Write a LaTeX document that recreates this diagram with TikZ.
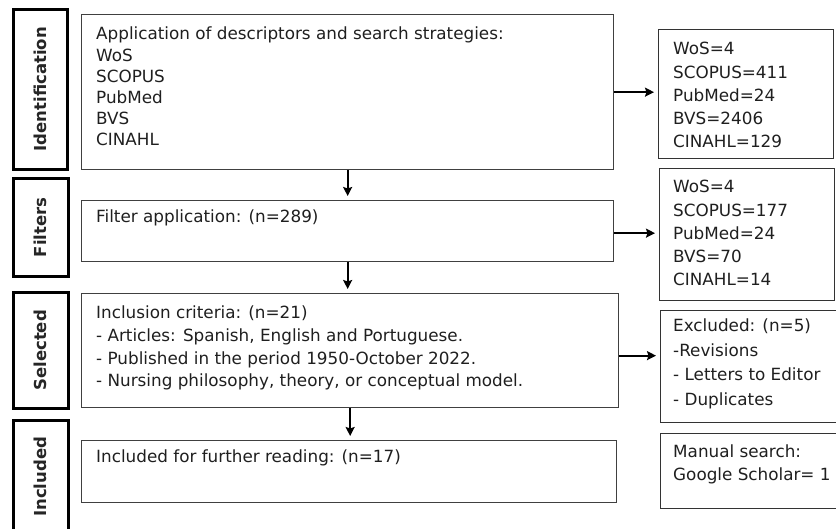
\documentclass[tikz,border=0pt]{standalone}
\usepackage{fontspec}
\setmainfont{DejaVu Sans}
\usetikzlibrary{arrows.meta}
\newcommand\mlines[2]{\parbox[t]{20cm}{\fontsize{16.8pt}{#1}\selectfont\raggedright #2}}
\begin{document}
\begin{tikzpicture}[x=1pt,y=-1pt,
  lab/.style={draw=black, line width=2.6pt, anchor=north west, inner sep=0pt},
  mainbox/.style={draw=black!75, line width=1.3pt, anchor=north west, inner sep=0pt},
  sidebox/.style={draw=black!80, line width=1.3pt, anchor=north west, inner sep=0pt},
  txt/.style={anchor=base west, inner sep=0pt, text=black!88},
  labtxt/.style={rotate=90, inner sep=0pt, font=\fontsize{16.5pt}{18pt}\selectfont\bfseries, text=black!85},
  arr/.style={line width=2pt, shorten >=4pt, -{Stealth[length=9pt,width=9pt,inset=1.5pt]}}]
\useasboundingbox (0,0) rectangle (836,529);
% stage labels
\node[lab, minimum width=54pt, minimum height=160pt] (l1) at (12,8) {};
\node[lab, minimum width=55pt, minimum height=98pt] (l2) at (12,177) {};
\node[lab, minimum width=55pt, minimum height=116pt] (l3) at (12,291) {};
\node[lab, minimum width=55pt, minimum height=113pt] (l4) at (12,419) {};
\node[labtxt] (lt1) at (l1.center) {Identification};
\node[labtxt] (lt2) at (l2.center) {Filters};
\node[labtxt] (lt3) at (l3.center) {Selected};
\node[labtxt] (lt4) at (l4.center) {Included};
% main boxes
\node[mainbox, minimum width=532pt, minimum height=155pt] (b1) at (81,14) {};
\node[mainbox, minimum width=532pt, minimum height=61pt] (b2) at (81,200) {};
\node[mainbox, minimum width=537pt, minimum height=114pt] (b3) at (81,293) {};
\node[mainbox, minimum width=535pt, minimum height=62pt] (b4) at (81,440) {};
\node[txt] (t1) at (96,40) {\mlines{21.2pt}{Application of descriptors and search strategies:\\WoS\\SCOPUS\\PubMed\\BVS\\CINAHL}};
\node[txt] (t2) at (96,223) {\mlines{21.2pt}{Filter application: (n=289)}};
\node[txt] (t3) at (96,319) {\mlines{22.6pt}{Inclusion criteria: (n=21)\\- Articles: Spanish, English and Portuguese.\\- Published in the period 1950-October 2022.\\- Nursing philosophy, theory, or conceptual model.}};
\node[txt] (t4) at (96,463) {\mlines{21.2pt}{Included for further reading: (n=17)}};
% side boxes
\node[sidebox, minimum width=175pt, minimum height=129pt] (r1) at (658,29) {};
\node[sidebox, minimum width=175pt, minimum height=132pt] (r2) at (659,168) {};
\node[sidebox, minimum width=180pt, minimum height=112pt] (r3) at (660,310) {};
\node[sidebox, minimum width=180pt, minimum height=75pt] (r4) at (660,433) {};
\node[txt] (rt1) at (673,55) {\mlines{23.2pt}{WoS=4\\SCOPUS=411\\PubMed=24\\BVS=2406\\CINAHL=129}};
\node[txt] (rt2) at (673,193) {\mlines{23.2pt}{WoS=4\\SCOPUS=177\\PubMed=24\\BVS=70\\CINAHL=14}};
\node[txt] (rt3) at (673,332) {\mlines{24.5pt}{Excluded: (n=5)\\-Revisions\\- Letters to Editor\\- Duplicates}};
\node[txt] (rt4) at (673,457) {\mlines{23pt}{Manual search:\\Google Scholar= 1}};
% arrows
\draw[arr] (b1.south) -- (b2.north);
\draw[arr] (b2.south) -- (b2.south |- b3.north);
\draw[arr] (b3.south) -- (b3.south |- b4.north);
\draw[arr] (b1.east) -- (b1.east -| r1.west);
\draw[arr] ([yshift=-2pt]b2.east) -- ([yshift=-2pt]b2.east -| r2.west);
\draw[arr] ([yshift=-5pt]b3.east) -- ([yshift=-5pt]b3.east -| r3.west);
\end{tikzpicture}
\end{document}
